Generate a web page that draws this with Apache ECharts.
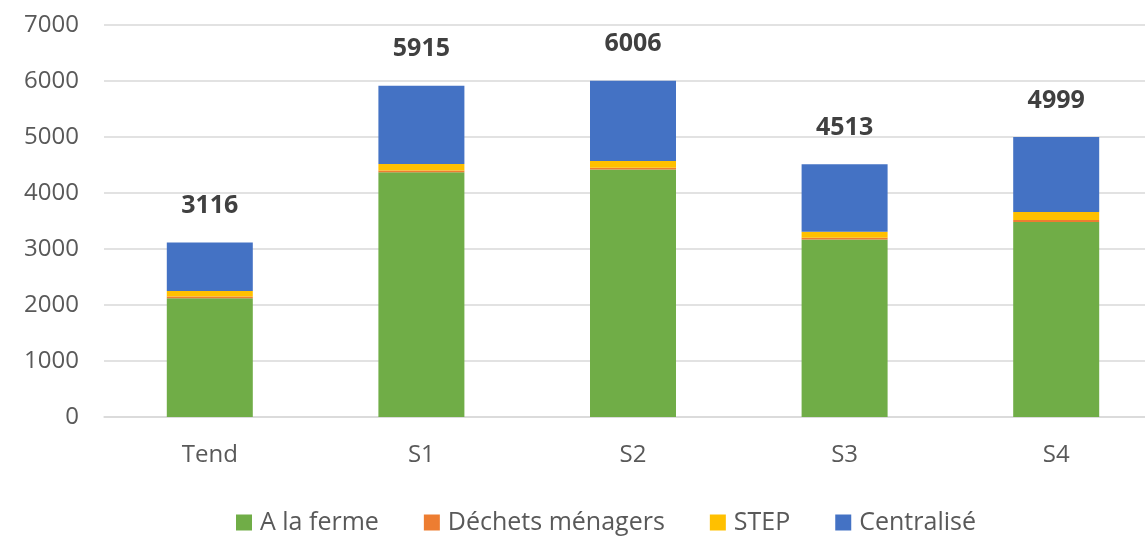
<!DOCTYPE html>
<html><head><meta charset="utf-8">
<script src="https://cdn.jsdelivr.net/npm/echarts@6/dist/echarts.min.js"></script>
<style>html,body{margin:0;padding:0;background:#fff;overflow:hidden}#c{width:1162px;height:536px}</style>
</head><body><div id="c"></div>
<script>
const categories = ['Tend', 'S1', 'S2', 'S3', 'S4'];
const aLaFerme = [2120, 4370, 4420, 3170, 3480];
const dechetsMenagers = [30, 30, 30, 30, 40];
const step = [100, 120, 120, 110, 140];
const centralise = [866, 1395, 1436, 1203, 1339];
const totals = [3116, 5915, 6006, 4513, 4999];
const yTicks = [0, 1000, 2000, 3000, 4000, 5000, 6000, 7000];

const FONT = 'Open Sans';
const chart = echarts.init(document.getElementById('c'), null, {renderer: 'canvas'});
function seg(name, data, color, extra) {
  return Object.assign({
    name: name, type: 'bar', stack: 'total', data: data, barWidth: 86,
    itemStyle: {color: color}, emphasis: {disabled: true}
  }, extra || {});
}
chart.setOption({
  animation: false,
  textStyle: {fontFamily: FONT},
  grid: {left: 104, top: 25, bottom: 119, right: 0, containLabel: false},
  legend: {
    top: 505, left: 231, itemWidth: 16, itemHeight: 16, itemGap: 45,
    icon: 'rect',
    textStyle: {fontFamily: FONT, fontSize: 25, color: '#595959', padding: [0, 0, 0, 3]},
    data: ['A la ferme', 'Déchets ménagers', 'STEP', 'Centralisé']
  },
  xAxis: {
    type: 'category', data: categories,
    axisLine: {lineStyle: {color: '#D9D9D9', width: 1.5}},
    axisTick: {show: false},
    axisLabel: {fontFamily: FONT, fontSize: 24, color: '#595959', margin: 26}
  },
  yAxis: {
    type: 'value', min: yTicks[0], max: yTicks[yTicks.length - 1], interval: 1000,
    axisLine: {show: false}, axisTick: {show: false},
    splitLine: {lineStyle: {color: '#D9D9D9', width: 1.5}},
    axisLabel: {fontFamily: FONT, fontSize: 24, color: '#595959', margin: 25, formatter: v => String(v)}
  },
  series: [
    seg('A la ferme', aLaFerme, '#70AD47'),
    seg('Déchets ménagers', dechetsMenagers, '#ED7D31'),
    seg('STEP', step, '#FFC000'),
    seg('Centralisé', centralise, '#4472C4', {
      label: {
        show: true, position: 'top', distance: 24,
        formatter: p => String(totals[p.dataIndex]),
        fontFamily: FONT, fontSize: 25, fontWeight: 'bold', color: '#404040'
      }
    })
  ]
});
</script></body></html>
